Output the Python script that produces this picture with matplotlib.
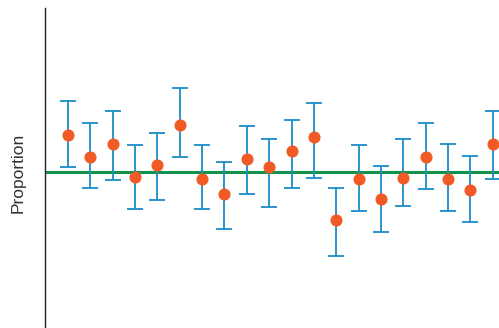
#!/usr/bin/env python3

import matplotlib
matplotlib.use("Agg")
import matplotlib.pyplot as plt
import numpy as np


# sample number along the x axis
samples = list(range(1, 21))

# observed proportion per sample
proportion = [0.592, 0.5375, 0.570, 0.488, 0.5175, 0.617, 0.483, 0.445, 0.5325, 0.5125,
              0.552, 0.588, 0.379, 0.4825, 0.4325, 0.486, 0.5375, 0.483, 0.454, 0.569]

# interval ends
upper = [0.678, 0.623, 0.653, 0.568, 0.598, 0.711, 0.568, 0.526, 0.616, 0.583,
         0.630, 0.672, 0.459, 0.568, 0.515, 0.582, 0.623, 0.569, 0.540, 0.652]
lower = [0.513, 0.460, 0.479, 0.408, 0.430, 0.538, 0.407, 0.358, 0.445, 0.413,
         0.460, 0.486, 0.290, 0.4025, 0.350, 0.416, 0.458, 0.403, 0.375, 0.4825]

true_p = 0.5


def main():
    plt.rcParams['font.family'] = ['Liberation Sans', 'DejaVu Sans']

    fig = plt.figure(figsize=(4.99, 3.28), dpi=100)
    ax = fig.add_axes([44.5 / 499, 0, 1 - 44.5 / 499, 1 - 8 / 328])

    p = np.array(proportion)
    err = [p - np.array(lower), np.array(upper) - p]

    ax.plot([0.06, 21], [true_p, true_p], color='#12924a', lw=2.2, zorder=1)
    ax.errorbar(samples, p, yerr=err, fmt='none', ecolor='#1a8cc8',
                elinewidth=1.3, capsize=5.6, capthick=1.3, zorder=2)
    ax.plot(samples, p, 'o', color='#f15a24', markersize=7.7, zorder=3)

    ax.set_xlim(-0.05, 20.28)
    ax.set_ylim(0.5 - 156 * 0.0025, 0.5 + 164 * 0.0025)

    for s in ['top', 'right', 'bottom']:
        ax.spines[s].set_visible(False)
    ax.spines['left'].set_color('#222222')
    ax.spines['left'].set_linewidth(1.0)
    ax.set_xticks([])
    ax.set_yticks([])

    fig.text(18 / 499, 1 - 173 / 328, 'Proportion', rotation=90, ha='center',
             va='center', fontsize=12.5, color='#333333')

    fig.savefig('out.png', dpi=100)


if __name__ == "__main__":
    main()
